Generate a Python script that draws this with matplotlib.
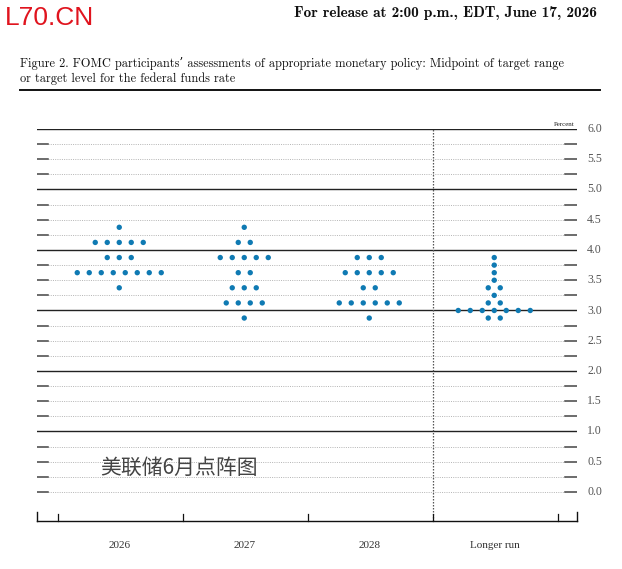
#!/usr/bin/env python3
"""FOMC dot plot, June 2026 style recreation."""

import matplotlib.pyplot as plt
import numpy as np

CATEGORIES = ["2026", "2027", "2028", "Longer run"]

LEVELS_2026 = [4.375, 4.125, 3.875, 3.625, 3.375]
COUNTS_2026 = [1, 5, 3, 8, 1]
LEVELS_2027 = [4.375, 4.125, 3.875, 3.625, 3.375, 3.125, 2.875]
COUNTS_2027 = [1, 2, 5, 2, 3, 4, 1]
LEVELS_2028 = [3.875, 3.625, 3.375, 3.125, 2.875]
COUNTS_2028 = [3, 5, 2, 6, 1]
LEVELS_LR = [3.875, 3.75, 3.625, 3.5, 3.375, 3.25, 3.125, 3.0, 2.875]
COUNTS_LR = [1, 1, 1, 1, 2, 1, 2, 7, 2]

Y_TICKS = [0.0, 0.5, 1.0, 1.5, 2.0, 2.5, 3.0, 3.5, 4.0, 4.5, 5.0, 5.5, 6.0]

DOT = "#0F7AB3"
INK = "#111111"
SERIF = ["cmr10", "DejaVu Serif"]


def main():
    fig = plt.figure(figsize=(6.22, 5.69), dpi=100, facecolor="white")
    W, H = 622, 569
    left, right, top, bottom = 37, 577, 129, 521
    ax = fig.add_axes([left / W, 1 - bottom / H, (right - left) / W, (bottom - top) / H])
    x0, x1 = -0.668, 3.652
    y0, y1 = -0.48, 6.0
    ax.set_xlim(x0, x1)
    ax.set_ylim(y0, y1)
    ax.axis("off")

    # grid lines every 0.25
    for lv in np.arange(0, 6.01, 0.25):
        if lv > 0 and abs(lv - round(lv)) < 1e-9:
            ax.plot([x0, x1], [lv, lv], color="#222222", lw=1.0, zorder=1)
        else:
            ax.plot([-0.58, 3.556], [lv, lv], color="#b4b4b4", lw=0.7,
                    ls=(0, (1, 1.3)), zorder=1)
            ax.plot([x0, -0.58], [lv, lv], color="#444444", lw=1.1, zorder=1)
            ax.plot([3.556, x1], [lv, lv], color="#444444", lw=1.1, zorder=1)

    # separator for longer run
    ax.plot([2.5, 2.5], [y0, y1], color="#555555", lw=0.9, ls=(0, (1.2, 1.2)), zorder=1)

    # bottom axis
    ax.plot([x0, x1], [y0, y0], color=INK, lw=1.0, clip_on=False)
    for xe in (x0, x1):
        ax.plot([xe, xe], [y0, y0 + 0.15], color=INK, lw=1.0, clip_on=False)
    for xt in (-0.5, 0.5, 1.5, 2.5, 3.5):
        ax.plot([xt, xt], [y0, y0 + 0.11], color=INK, lw=0.9, clip_on=False)

    groups = [
        (LEVELS_2026, COUNTS_2026),
        (LEVELS_2027, COUNTS_2027),
        (LEVELS_2028, COUNTS_2028),
        (LEVELS_LR, COUNTS_LR),
    ]
    step = 0.096
    for i, (levels, counts) in enumerate(groups):
        for lv, n in zip(levels, counts):
            xs = i - 0.01 + (np.arange(n) - (n - 1) / 2) * step
            ax.scatter(xs, np.full(n, lv), s=15, color=DOT, edgecolors="none", zorder=3)

    for i, name in enumerate(CATEGORIES):
        fig.text((58 + 125 * i + 62) / W, 1 - 546 / H, name, ha="center", va="center",
                 fontsize=8, color="#333333", family=["Liberation Serif"])

    for v in Y_TICKS:
        ypix = 492 - v * 60.5
        fig.text(587 / W, 1 - ypix / H, f"{v:.1f}", ha="left", va="center",
                 fontsize=8.5, color="#555555", family=["Liberation Serif"])
    fig.text(575 / W, 1 - 124 / H, "Percent", ha="right", va="center",
             fontsize=5, color="#222222", family=["Liberation Serif"])

    fig.text(5 / W, 1 - 18 / H, "L70.CN", ha="left", va="center", fontsize=19,
             color="#E0141E", family=["Liberation Sans"])
    fig.text(597 / W, 1 - 13 / H, "For release at 2:00 p.m., EDT, June 17, 2026",
             ha="right", va="center", fontsize=11, fontweight="bold", color=INK,
             family=["cmb10", "DejaVu Serif"])
    fig.text(20 / W, 1 - 64 / H,
             "Figure 2. FOMC participants\u2019 assessments of appropriate monetary policy: Midpoint of target range",
             ha="left", va="center", fontsize=8.9, color=INK, family=SERIF)
    fig.text(20 / W, 1 - 79 / H, "or target level for the federal funds rate",
             ha="left", va="center", fontsize=8.9, color=INK, family=SERIF)
    fig.add_artist(plt.Line2D([20 / W, 600 / W], [1 - 90 / H, 1 - 90 / H],
                              color=INK, lw=1.4))

    fig.text(100 / W, 1 - 468 / H, "美联储6月点阵图", ha="left", va="center",
             fontsize=15, color="#444444", family=["Noto Sans CJK SC", "DejaVu Sans"])

    fig.savefig("out.png", dpi=100, facecolor="white")
    plt.close(fig)


if __name__ == "__main__":
    main()
